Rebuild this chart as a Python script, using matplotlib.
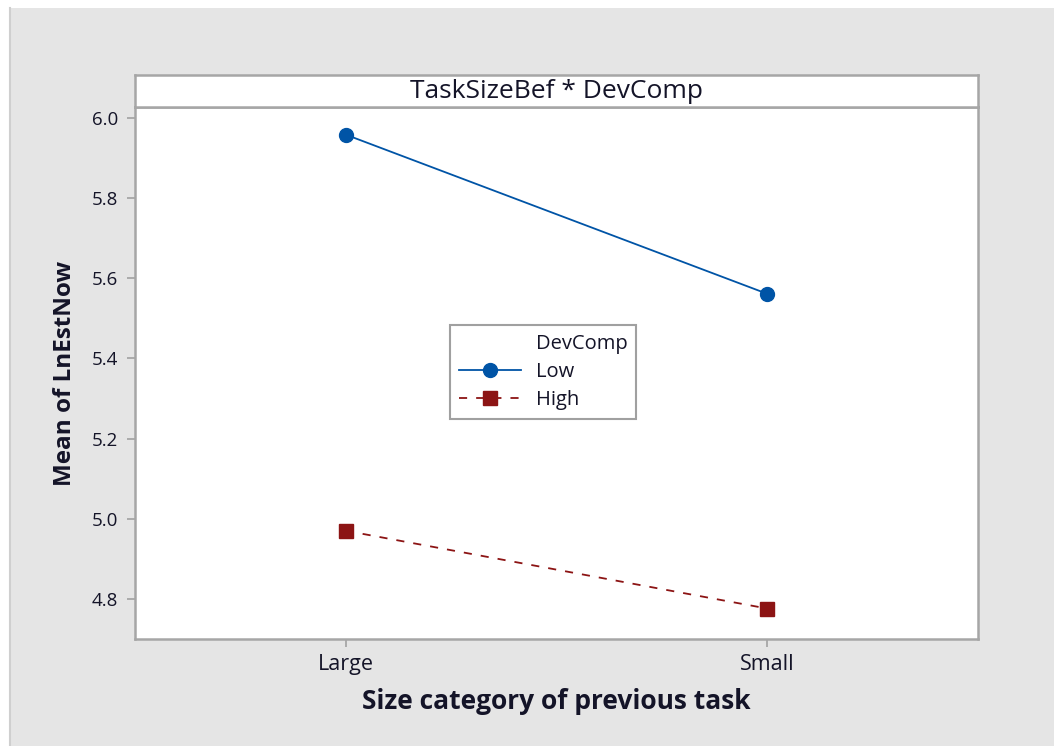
import matplotlib
matplotlib.use('Agg')
import matplotlib.pyplot as plt
from matplotlib.patches import Rectangle
from matplotlib.lines import Line2D

plt.rcParams['font.family'] = ['Open Sans', 'DejaVu Sans']

# mean of LnEstNow by size of previous task, one series per DevComp level
categories = ['Large', 'Small']
low_means = [5.958, 5.561]
high_means = [4.970, 4.776]
y_ticks = [4.8, 5.0, 5.2, 5.4, 5.6, 5.8, 6.0]

W, H = 1054, 746
fig = plt.figure(figsize=(W / 100, H / 100), dpi=100, facecolor='white')

# gray panel behind the plot, with a thin white margin at top and left
fig.patches.append(Rectangle((10 / W, 0), 1 - 10 / W, 1 - 8 / H, transform=fig.transFigure,
                             facecolor='#e5e5e5', edgecolor='none', zorder=-10))
fig.lines.append(Line2D([10 / W, 10 / W], [0, 1 - 8 / H], transform=fig.transFigure,
                        color='#cfcfcf', lw=1.5, zorder=-9))

edge = '#a6a6a6'
txt = '#141428'
left, right = 135 / W, 978 / W
bottom, top = 1 - 639 / H, 1 - 107 / H

ax = fig.add_axes([left, bottom, right - left, top - bottom])
ax.set_facecolor('white')
for s in ax.spines.values():
    s.set_color(edge)
    s.set_linewidth(1.8)

x = list(range(len(categories)))
ax.plot(x, low_means, color='#0054a6', lw=1.3, marker='o', markersize=10,
        label='Low')
ax.plot(x, high_means, color='#8c1414', lw=1.3, ls=(0, (4.5, 5)), marker='s',
        markersize=10, label='High')

ax.set_xlim(-0.5, 1.5)
ax.set_ylim(4.7, 6.027)
ax.set_xticks(x)
ax.set_xticklabels(categories)
ax.set_yticks(y_ticks)
ax.set_yticklabels([f'{v:.1f}' for v in y_ticks])
ax.tick_params(axis='both', direction='out', length=6, width=1.3, color=edge,
               labelcolor=txt, pad=6)
ax.tick_params(axis='y', labelsize=13.5)
ax.tick_params(axis='x', labelsize=15.5, pad=5)

ax.set_xlabel('Size category of previous task', fontsize=19, fontweight='bold',
              color=txt, labelpad=9)
ax.set_ylabel('Mean of LnEstNow', fontsize=17.5, fontweight='bold',
              color=txt, labelpad=11)

# title strip above the plot
hdr = fig.add_axes([left, top, right - left, 32 / H])
hdr.set_facecolor('white')
hdr.set_xticks([])
hdr.set_yticks([])
for s in hdr.spines.values():
    s.set_color(edge)
    s.set_linewidth(1.8)
hdr.text(0.5, 0.5, 'TaskSizeBef * DevComp', ha='center', va='center',
         fontsize=19, color=txt, transform=hdr.transAxes)

# legend with its heading in line with the entry labels
blank = Line2D([], [], color='none')
handles, labels = ax.get_legend_handles_labels()
leg = ax.legend([blank] + handles, ['DevComp'] + labels,
                loc='upper left', bbox_to_anchor=((450 / W - left) / (right - left),
                                                  (1 - 325 / H - bottom) / (top - bottom)),
                fontsize=14.5, handlelength=3.1, handletextpad=0.7, borderpad=0.45,
                labelspacing=0.4, fancybox=False, framealpha=1,
                edgecolor='#a0a0a0', borderaxespad=0)
leg.get_frame().set_linewidth(1.5)
for t in leg.get_texts():
    t.set_color(txt)

fig.savefig('out.png', dpi=100, facecolor=fig.get_facecolor())
